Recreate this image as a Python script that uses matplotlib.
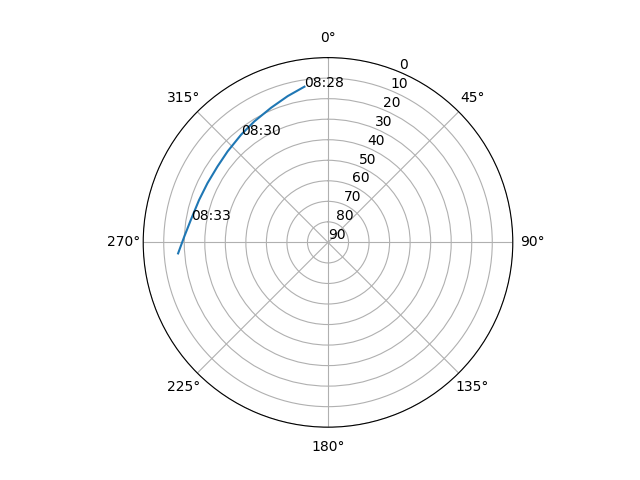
import numpy as np
import matplotlib
matplotlib.use('Agg')
import matplotlib.pyplot as plt

# satellite pass, azimuth (deg) / elevation (deg)
azimuth = [351.4, 344.6, 337.1, 328.7, 321.1, 312.2, 304.5, 296.2,
           288.2, 279.3, 272.2, 265.8]
elevation = [13.3, 16.1, 18.8, 21.0, 22.6, 24.0, 24.7, 24.6,
             23.9, 22.3, 19.9, 16.8]

label_idx = [0, 4, 9]
label_txt = ['08:28', '08:30', '08:33']

fig = plt.figure(figsize=(6.4, 4.8), dpi=100)
ax = fig.add_subplot(111, projection='polar')
ax.set_theta_zero_location('N')
ax.set_theta_direction(-1)

th = np.radians(azimuth)
ax.plot(th, elevation)
for i, t in zip(label_idx, label_txt):
    ax.text(th[i], elevation[i], t)

ax.set_rlim(90, 0)
ax.set_yticks(range(0, 91, 10))

fig.savefig('out.png')
